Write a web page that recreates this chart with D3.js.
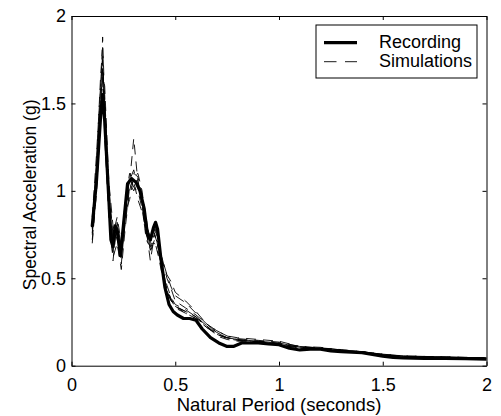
<!DOCTYPE html>
<html>
<head>
<meta charset="utf-8">
<script src="https://cdn.jsdelivr.net/npm/d3@7"></script>
<style>
	body { margin: 0; background: #fff; }
	svg text { font-family: "Liberation Sans", Arial, sans-serif; }
</style>
</head>
<body>
<div id="chart"></div>
<script>
'use strict';

// recorded spectrum
const recPeriod = [0.1,0.12,0.14,0.15,0.16,0.18,0.19,0.2,0.21,0.22,0.235,0.25,0.27,0.29,0.31,0.33,0.35,0.365,0.38,0.395,0.405,0.415,0.43,0.45,0.47,0.49,0.51,0.54,0.57,0.6,0.63,0.67,0.71,0.75,0.78,0.82,0.86,0.9,0.95,1.0,1.05,1.1,1.15,1.2,1.25,1.3,1.35,1.4,1.45,1.5,1.55,1.6,1.7,1.8,1.9,2.0];
const recSa = [0.80,1.05,1.42,1.55,1.40,0.95,0.72,0.68,0.80,0.78,0.63,0.80,1.04,1.07,1.05,1.00,0.90,0.76,0.72,0.79,0.82,0.78,0.62,0.45,0.35,0.31,0.29,0.27,0.27,0.26,0.21,0.16,0.13,0.11,0.11,0.13,0.13,0.13,0.125,0.12,0.10,0.09,0.095,0.095,0.085,0.08,0.077,0.075,0.065,0.055,0.048,0.045,0.042,0.042,0.040,0.038];

// simulated spectra, all on one period grid
const simPeriod = [0.1,0.12,0.14,0.15,0.16,0.18,0.2,0.22,0.24,0.26,0.28,0.3,0.32,0.34,0.36,0.38,0.4,0.42,0.44,0.46,0.48,0.5,0.55,0.6,0.65,0.7,0.75,0.8,0.9,1.0,1.1,1.2,1.3,1.4,1.5,1.6,1.8,2.0];
const sim1 = [0.78,1.10,1.55,1.88,1.50,0.95,0.70,0.75,0.66,0.85,1.05,1.30,1.05,0.95,0.80,0.72,0.78,0.66,0.58,0.52,0.48,0.42,0.37,0.31,0.24,0.19,0.16,0.15,0.14,0.13,0.11,0.10,0.09,0.08,0.065,0.056,0.05,0.045];
const sim2 = [0.70,1.00,1.45,1.70,1.45,0.90,0.65,0.80,0.60,0.90,1.08,1.02,1.00,0.90,0.75,0.70,0.80,0.70,0.52,0.42,0.37,0.34,0.31,0.28,0.22,0.18,0.16,0.15,0.135,0.125,0.105,0.10,0.088,0.078,0.062,0.052,0.048,0.043];
const sim3 = [0.85,1.20,1.60,1.75,1.35,0.85,0.62,0.70,0.55,0.80,1.00,1.10,1.08,0.98,0.85,0.65,0.72,0.62,0.50,0.44,0.38,0.33,0.30,0.27,0.23,0.17,0.15,0.14,0.14,0.12,0.10,0.095,0.085,0.075,0.06,0.05,0.046,0.042];
const sim4 = [0.75,1.05,1.50,1.60,1.55,1.00,0.75,0.85,0.70,0.95,1.10,1.05,0.95,0.88,0.78,0.60,0.75,0.68,0.60,0.52,0.45,0.40,0.36,0.30,0.24,0.20,0.17,0.16,0.15,0.14,0.11,0.105,0.09,0.08,0.066,0.056,0.05,0.044];
const sim5 = [0.80,1.15,1.65,1.82,1.30,0.88,0.68,0.78,0.62,0.88,0.95,1.08,1.10,1.00,0.82,0.70,0.70,0.64,0.54,0.46,0.39,0.35,0.32,0.28,0.23,0.19,0.16,0.15,0.14,0.13,0.105,0.10,0.09,0.08,0.064,0.054,0.049,0.044];
const sim6 = [0.72,0.98,1.40,1.65,1.60,1.05,0.80,0.72,0.65,0.82,1.02,1.06,1.04,0.92,0.72,0.68,0.82,0.72,0.56,0.43,0.37,0.34,0.30,0.27,0.22,0.18,0.155,0.145,0.13,0.12,0.10,0.098,0.088,0.077,0.063,0.053,0.047,0.043];
const sim7 = [0.82,1.12,1.58,1.78,1.42,0.92,0.60,0.82,0.68,0.92,1.06,1.12,1.02,0.96,0.80,0.74,0.74,0.70,0.60,0.50,0.44,0.37,0.33,0.29,0.24,0.20,0.17,0.155,0.145,0.135,0.11,0.102,0.092,0.08,0.065,0.055,0.05,0.045];
const sim8 = [0.76,1.08,1.48,1.70,1.48,0.98,0.72,0.76,0.58,0.86,1.04,1.00,1.06,0.94,0.76,0.66,0.76,0.66,0.52,0.44,0.38,0.34,0.31,0.28,0.23,0.18,0.16,0.145,0.14,0.125,0.105,0.098,0.087,0.077,0.062,0.053,0.048,0.043];
const sims = [sim1, sim2, sim3, sim4, sim5, sim6, sim7, sim8];

const xTicks = [0, 0.5, 1, 1.5, 2];
const yTicks = [0, 0.5, 1, 1.5, 2];
const legendLabels = ["Recording", "Simulations"];

const width = 501, height = 416;
const margin = { top: 16, right: 14.5, bottom: 50.3, left: 71.5 };
const fontSize = 18;
const dash = "10,7";

const svg = d3.select("#chart")
	.append("svg")
		.attr("width", width)
		.attr("height", height)
	;

const x = d3.scaleLinear()
	.domain([0, 2])
	.range([margin.left, width - margin.right]);
const y = d3.scaleLinear()
	.domain([0, 2])
	.range([height - margin.bottom, margin.top]);

svg.append("clipPath")
	.attr("id", "plotclip")
	.append("rect")
		.attr("x", x(0))
		.attr("y", y(2))
		.attr("width", x(2) - x(0))
		.attr("height", y(0) - y(2));

const plot = svg.append("g").attr("clip-path", "url(#plotclip)");

const line = d3.line()
	.x(d => x(d[0]))
	.y(d => y(d[1]));

// simulations first, recording on top
plot.selectAll("path.sim")
	.data(sims)
	.join("path")
		.attr("class", "sim")
		.attr("d", s => line(simPeriod.map((p, i) => [p, s[i]])))
		.attr("fill", "none")
		.attr("stroke", "#000")
		.attr("stroke-width", 0.9)
		.attr("stroke-dasharray", dash)
	;

plot.append("path")
	.attr("d", line(recPeriod.map((p, i) => [p, recSa[i]])))
	.attr("fill", "none")
	.attr("stroke", "#000")
	.attr("stroke-width", 3.2)
	.attr("stroke-linejoin", "round")
	.attr("stroke-linecap", "round")
	;

// axes, MATLAB style: ticks inside, box all round
const fmt = d => d3.format("~g")(d);

const styleAxis = g => {
	g.select(".domain").attr("stroke", "#000").attr("stroke-width", 1);
	g.selectAll(".tick line").attr("stroke", "#000");
	g.selectAll(".tick text")
		.attr("fill", "#000")
		.style("font-size", fontSize + "px");
};

svg.append("g")
	.attr("transform", `translate(0,${y(0)})`)
	.call(d3.axisBottom(x).tickValues(xTicks).tickFormat(fmt).tickSize(-4).tickSizeOuter(0).tickPadding(13))
	.call(styleAxis)
	;
svg.append("g")
	.attr("transform", `translate(0,${y(2)})`)
	.call(d3.axisTop(x).tickValues(xTicks).tickFormat("").tickSize(-4).tickSizeOuter(0))
	.call(styleAxis)
	;
svg.append("g")
	.attr("transform", `translate(${x(0)},0)`)
	.call(d3.axisLeft(y).tickValues(yTicks).tickFormat(fmt).tickSize(-4).tickSizeOuter(0).tickPadding(5.5))
	.call(styleAxis)
	;
svg.append("g")
	.attr("transform", `translate(${x(2)},0)`)
	.call(d3.axisRight(y).tickValues(yTicks).tickFormat("").tickSize(-4).tickSizeOuter(0))
	.call(styleAxis)
	;

svg.append("text")
	.attr("x", (x(0) + x(2)) / 2)
	.attr("y", 411)
	.attr("text-anchor", "middle")
	.style("font-size", "18.5px")
	.text("Natural Period (seconds)")
	;

svg.append("text")
	.attr("transform", `translate(36,${(y(0) + y(2)) / 2 + 4}) rotate(-90)`)
	.attr("text-anchor", "middle")
	.style("font-size", "17.5px")
	.text("Spectral Acceleration (g)")
	;

// legend
const legend = svg.append("g");
legend.append("rect")
	.attr("x", 316)
	.attr("y", 25)
	.attr("width", 161)
	.attr("height", 53)
	.attr("fill", "#fff")
	.attr("stroke", "#000")
	.attr("stroke-width", 1)
	;

const rows = legend.selectAll("g.row")
	.data(legendLabels)
	.join("g")
		.attr("class", "row")
		.attr("transform", (d, i) => `translate(0,${42.7 + i * 19})`)
	;
rows.append("line")
	.attr("x1", 324)
	.attr("x2", 357)
	.attr("stroke", "#000")
	.attr("stroke-width", (d, i) => i === 0 ? 3.2 : 0.9)
	.attr("stroke-dasharray", (d, i) => i === 0 ? null : "12.5,8.5")
	;
rows.append("text")
	.attr("x", 379)
	.attr("y", 5.6)
	.style("font-size", fontSize + "px")
	.text(d => d)
	;
</script>
</body>
</html>
